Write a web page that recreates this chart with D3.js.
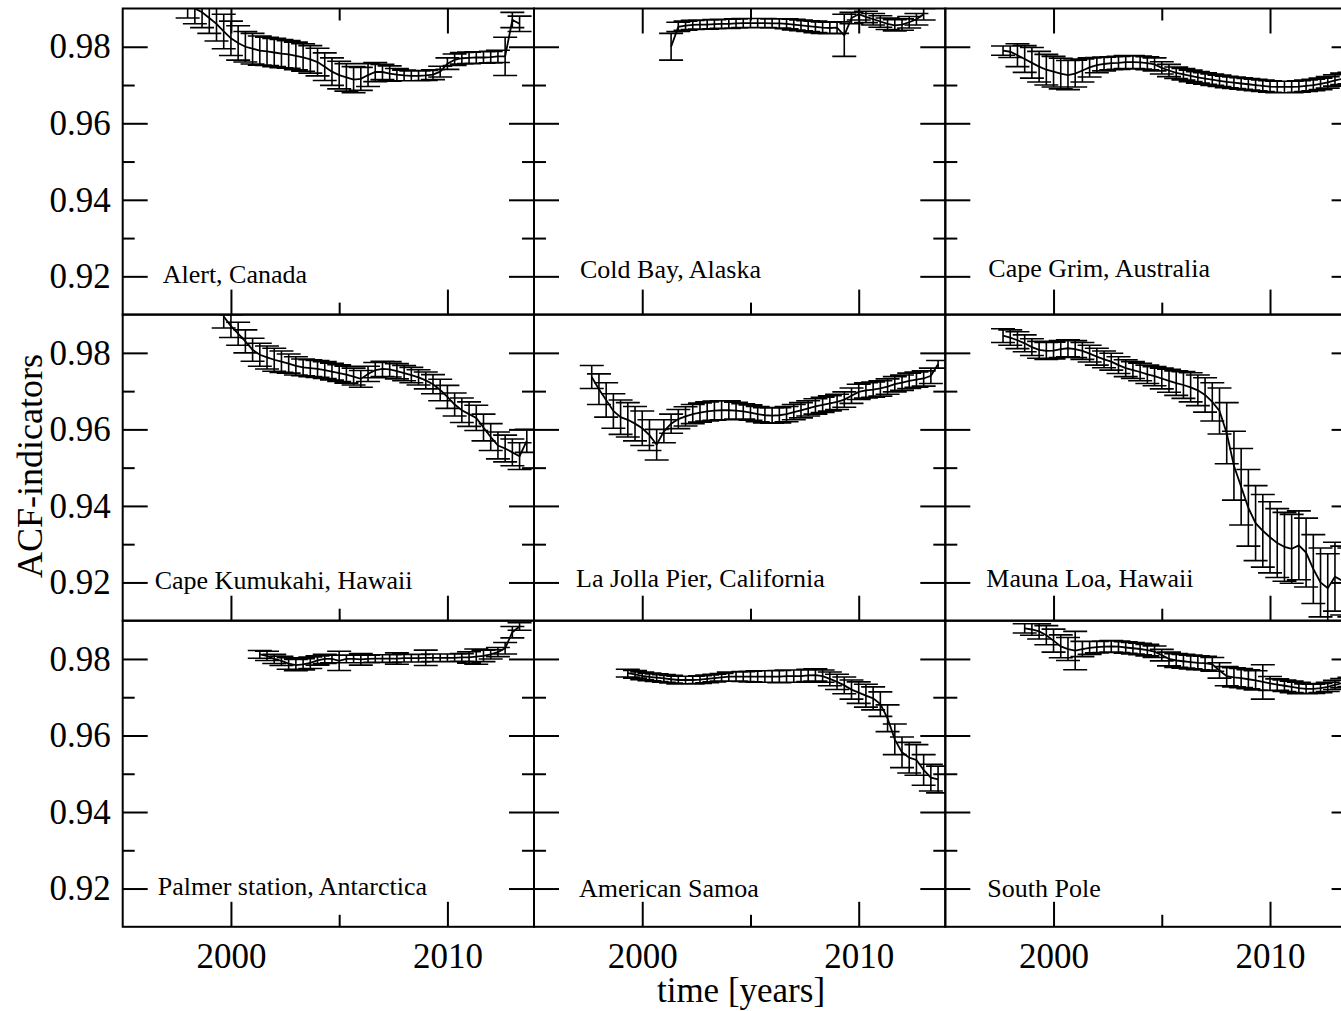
<!DOCTYPE html>
<html><head><meta charset="utf-8">
<script src="https://cdn.jsdelivr.net/npm/d3@7"></script>
<style>
body{margin:0;background:#fff}
svg{display:block}
text{font-family:"Liberation Serif","Times New Roman",serif;fill:#000}
</style>
</head><body>
<svg id="chart" width="1341" height="1011"></svg>
<script>
// ---------------- data ----------------
const stationNames = ["Alert, Canada","Cold Bay, Alaska","Cape Grim, Australia",
  "Cape Kumukahi, Hawaii","La Jolla Pier, California","Mauna Loa, Hawaii",
  "Palmer station, Antarctica","American Samoa","South Pole"];
const startYears = [1998.0,2001.333,1997.667,1999.667,1997.667,1997.667,2001.333,1999.333,1998.667];
const sampleStep = 1/3; // years between successive windows

const alertVals = [0.9915,0.9900,0.9890,0.9875,0.9860,0.9840,0.9822,0.9810,0.9800,0.9795,0.9790,
  0.9788,0.9785,0.9782,0.9780,0.9776,0.9772,0.9767,0.9760,0.9748,0.9735,
  0.9726,0.9720,0.9714,0.9716,0.9726,0.9734,0.9734,0.9730,0.9727,0.9725,
  0.9724,0.9724,0.9725,0.9727,0.9735,0.9756,0.9766,0.9770,0.9771,0.9772,
  0.9772,0.9773,0.9775,0.9775,0.9870,0.9860];
const alertErrs = [0.004,0.004,0.004,0.004,0.0045,0.0045,0.0045,0.0045,0.004,0.004,0.0038,
  0.0037,0.0037,0.0037,0.0036,0.0036,0.0036,0.0036,0.0036,0.0036,0.0036,
  0.0036,0.0036,0.0034,0.003,0.003,0.0025,0.002,0.002,0.0016,0.0014,
  0.0013,0.0013,0.0013,0.0013,0.0014,0.0015,0.0015,0.0015,0.0015,0.0015,
  0.0015,0.0015,0.0016,0.005,0.002,0.002];

const coldBayVals = [0.9800,0.9852,0.9855,0.9857,0.9858,0.9858,0.9859,0.9860,0.9860,0.9861,
  0.9862,0.9862,0.9862,0.9862,0.9861,0.9861,0.9860,0.9858,0.9856,0.9854,
  0.9852,0.9850,0.9849,0.9850,0.9830,0.9875,0.9885,0.9878,0.9872,0.9866,
  0.9860,0.9856,0.9858,0.9864,0.9872,0.9885];
const coldBayErrs = [0.0035,0.0012,0.0012,0.0012,0.0012,0.0012,0.0012,0.0012,0.0012,0.0012,
  0.0012,0.0012,0.0012,0.0012,0.0012,0.0012,0.0013,0.0014,0.0014,0.0014,
  0.0015,0.0015,0.0015,0.0015,0.0055,0.0015,0.0015,0.0015,0.0015,0.0015,
  0.0015,0.0015,0.0015,0.0015,0.0015,0.0015];

const capeGrimVals = [0.9790,0.9787,0.9778,0.9768,0.9758,0.9748,0.9740,0.9735,0.9730,0.9726,
  0.9730,0.9738,0.9746,0.9752,0.9755,0.9757,0.9758,0.9760,0.9760,0.9759,
  0.9757,0.9754,0.9745,0.9738,0.9732,0.9728,0.9724,0.9720,0.9717,0.9714,
  0.9711,0.9708,0.9706,0.9704,0.9702,0.9700,0.9698,0.9696,0.9695,0.9695,
  0.9695,0.9696,0.9698,0.9700,0.9703,0.9707,0.9712,0.9716,0.9718];
const capeGrimErrs = [0.0012,0.0015,0.003,0.0035,0.004,0.004,0.004,0.004,0.004,0.0038,
  0.0035,0.003,0.0025,0.002,0.0018,0.0017,0.0017,0.0017,0.0017,0.0017,
  0.0017,0.0017,0.0016,0.0016,0.0015,0.0015,0.0015,0.0015,0.0015,0.0015,
  0.0015,0.0015,0.0015,0.0015,0.0015,0.0015,0.0015,0.0015,0.0015,0.0015,
  0.0015,0.0015,0.0015,0.0015,0.0015,0.0015,0.0015,0.0015,0.0015];

const kumukahiVals = [0.9895,0.9870,0.9850,0.9830,0.9808,0.9795,0.9788,0.9782,0.9777,0.9772,
  0.9766,0.9762,0.9760,0.9758,0.9755,0.9751,0.9747,0.9743,0.9738,0.9732,
  0.9745,0.9755,0.9758,0.9757,0.9752,0.9747,0.9742,0.9736,0.9728,0.9718,
  0.9703,0.9685,0.9665,0.9650,0.9640,0.9630,0.9605,0.9580,0.9558,0.9550,
  0.9540,0.9530,0.9570];
const kumukahiErrs = [0.003,0.003,0.003,0.003,0.003,0.003,0.003,0.003,0.0028,0.0025,
  0.0024,0.0022,0.0022,0.0022,0.0022,0.0022,0.0022,0.0022,0.0022,0.0022,
  0.002,0.002,0.002,0.002,0.002,0.002,0.002,0.002,0.0022,0.0025,
  0.0028,0.003,0.003,0.0032,0.0032,0.0033,0.0035,0.0035,0.0035,0.0035,
  0.0035,0.0035,0.003];

const laJollaVals = [0.9737,0.9705,0.9677,0.9648,0.9632,0.9625,0.9615,0.9603,0.9585,0.9560,
  0.9595,0.9615,0.9627,0.9634,0.9640,0.9644,0.9647,0.9649,0.9650,0.9650,
  0.9649,0.9647,0.9644,0.9640,0.9637,0.9636,0.9637,0.9640,0.9645,0.9650,
  0.9655,0.9660,0.9664,0.9668,0.9672,0.9678,0.9688,0.9698,0.9702,0.9704,
  0.9707,0.9712,0.9718,0.9722,0.9727,0.9730,0.9733,0.9740,0.9770];
const laJollaErrs = [0.003,0.004,0.0045,0.0045,0.0045,0.0045,0.0045,0.0045,0.004,0.004,
  0.003,0.0025,0.0025,0.0025,0.0025,0.0025,0.0025,0.0025,0.0025,0.0025,
  0.0022,0.002,0.002,0.002,0.002,0.002,0.002,0.002,0.002,0.002,
  0.002,0.002,0.002,0.002,0.002,0.002,0.002,0.002,0.002,0.002,
  0.002,0.002,0.002,0.002,0.002,0.002,0.002,0.002,0.001];

const maunaLoaVals = [0.9845,0.9840,0.9833,0.9825,0.9815,0.9808,0.9805,0.9806,0.9810,0.9812,
  0.9810,0.9805,0.9798,0.9790,0.9783,0.9777,0.9768,0.9760,0.9755,0.9750,
  0.9744,0.9739,0.9733,0.9727,0.9721,0.9716,0.9710,0.9702,0.9690,0.9672,
  0.9648,0.9590,0.9505,0.9450,0.9395,0.9355,0.9335,0.9318,0.9303,0.9293,
  0.9288,0.9297,0.9278,0.9235,0.9200,0.9185,0.9215,0.9205,0.9200];
const maunaLoaErrs = [0.0018,0.002,0.0022,0.0022,0.0022,0.0022,0.0022,0.0022,0.0022,0.0022,
  0.0022,0.0022,0.0022,0.0022,0.0022,0.0022,0.0022,0.0022,0.0022,0.0023,
  0.0024,0.0025,0.0027,0.003,0.0032,0.0035,0.0038,0.004,0.0045,0.005,
  0.006,0.008,0.009,0.01,0.01,0.0098,0.0095,0.0093,0.009,0.009,
  0.009,0.009,0.009,0.009,0.009,0.009,0.009,0.009,0.009];

const palmerVals = [0.9812,0.9808,0.9800,0.9795,0.9788,0.9784,0.9786,0.9790,0.9796,0.9800,
  0.9800,0.9795,0.9800,0.9800,0.9799,0.9800,0.9801,0.9801,0.9801,0.9801,
  0.9802,0.9802,0.9802,0.9803,0.9803,0.9803,0.9803,0.9803,0.9804,0.9804,
  0.9806,0.9808,0.9812,0.9818,0.9828,0.9870,0.9885];
const palmerErrs = [0.001,0.0012,0.0012,0.0012,0.0015,0.0015,0.0015,0.0015,0.0012,0.0012,
  0.001,0.0025,0.001,0.001,0.0015,0.001,0.001,0.001,0.001,0.0015,
  0.001,0.001,0.001,0.002,0.001,0.001,0.001,0.001,0.001,0.0015,
  0.002,0.0015,0.0012,0.0012,0.0015,0.0015,0.001];

const samoaVals = [0.9763,0.9760,0.9756,0.9753,0.9751,0.9749,0.9747,0.9745,0.9745,0.9745,
  0.9746,0.9748,0.9750,0.9752,0.9754,0.9754,0.9754,0.9754,0.9754,0.9754,
  0.9754,0.9754,0.9755,0.9755,0.9755,0.9757,0.9758,0.9755,0.9748,0.9740,
  0.9731,0.9720,0.9712,0.9704,0.9697,0.9682,0.9645,0.9590,0.9556,0.9542,
  0.9536,0.9510,0.9490,0.9485];
const samoaErrs = [0.001,0.001,0.001,0.001,0.001,0.001,0.001,0.001,0.001,0.001,
  0.001,0.001,0.001,0.001,0.0012,0.0012,0.0013,0.0014,0.0015,0.0015,
  0.0015,0.0016,0.0016,0.0016,0.0016,0.0016,0.0016,0.0016,0.0018,0.002,
  0.0022,0.0025,0.0028,0.003,0.003,0.0032,0.0035,0.004,0.004,0.004,
  0.004,0.004,0.0035,0.0035];

const southPoleVals = [0.9880,0.9877,0.9872,0.9862,0.9848,0.9833,0.9826,0.9822,0.9826,0.9829,
  0.9831,0.9832,0.9833,0.9832,0.9830,0.9828,0.9826,0.9823,0.9819,0.9810,
  0.9800,0.9796,0.9794,0.9792,0.9790,0.9789,0.9786,0.9770,0.9755,0.9752,
  0.9750,0.9747,0.9744,0.9740,0.9736,0.9733,0.9730,0.9727,0.9724,0.9722,
  0.9722,0.9724,0.9727,0.9732,0.9737,0.9740];
const southPoleErrs = [0.0012,0.0015,0.002,0.0025,0.003,0.003,0.003,0.005,0.002,0.0017,
  0.0015,0.0015,0.0015,0.0015,0.0015,0.0015,0.0015,0.0015,0.0015,0.0015,
  0.0018,0.0018,0.0018,0.0018,0.0018,0.0018,0.0018,0.002,0.0025,0.0025,
  0.0025,0.0025,0.0025,0.0045,0.0018,0.0015,0.0015,0.0015,0.0015,0.0013,
  0.0012,0.0012,0.0012,0.0012,0.0012,0.0012];

const seriesVals = [alertVals,coldBayVals,capeGrimVals,kumukahiVals,laJollaVals,maunaLoaVals,palmerVals,samoaVals,southPoleVals];
const seriesErrs = [alertErrs,coldBayErrs,capeGrimErrs,kumukahiErrs,laJollaErrs,maunaLoaErrs,palmerErrs,samoaErrs,southPoleErrs];

const xDomain = [1995, 2014];
const yDomain = [0.91, 0.99];
const xMajorTicks = [2000, 2010];
const xMinorTicks = [2005];
const yMajorTicks = [0.92, 0.94, 0.96, 0.98];
const yMinorTicks = [0.93, 0.95, 0.97];
const yTitle = "ACF-indicators";
const xTitle = "time [years]";

// ---------------- layout ----------------
const L = {left:122.7, top:8.5, pw:411.3, ph:306.1, major:25, minor:12, cap:12};
const labelOffsets = [[40,274.5],[46,269.5],[43,268.5],[32,274.5],[42,272],[41,272],[35,274],[45,276],[42,276]];

const svg = d3.select("#chart");
svg.append("defs").append("clipPath").attr("id","pclip")
  .append("rect").attr("x",0).attr("y",0).attr("width",L.pw).attr("height",L.ph);

const x = d3.scaleLinear().domain(xDomain).range([0, L.pw]);
const y = d3.scaleLinear().domain(yDomain).range([L.ph, 0]);

function styleAxis(g){
  g.select(".domain").remove();
  g.selectAll(".tick line").attr("stroke","#000").attr("stroke-width",2);
  g.selectAll(".tick text").attr("font-family","Liberation Serif, Times New Roman, serif")
    .attr("font-size",35).attr("fill","#000");
  g.attr("font-family",null).attr("font-size",null);
}

stationNames.forEach((name, i) => {
  const row = Math.floor(i/3), col = i % 3;
  const g = svg.append("g").attr("transform",`translate(${L.left + col*L.pw},${L.top + row*L.ph})`);
  const vals = seriesVals[i], errs = seriesErrs[i];
  const pts = vals.map((v,k) => ({t: startYears[i] + k*sampleStep, v: v, e: errs[k]}));

  const data = g.append("g").attr("clip-path","url(#pclip)");
  // error bars
  let p = "";
  pts.forEach(d => {
    const cx = x(d.t), y1 = y(d.v - d.e), y2 = y(d.v + d.e);
    p += `M${cx},${y1}V${y2}M${cx-L.cap},${y2}h${2*L.cap}M${cx-L.cap},${y1}h${2*L.cap}`;
  });
  data.append("path").attr("d",p).attr("fill","none").attr("stroke","#000").attr("stroke-width",1.6);
  // mean line
  data.append("path").datum(pts)
    .attr("d", d3.line().x(d => x(d.t)).y(d => y(d.v)))
    .attr("fill","none").attr("stroke","#000").attr("stroke-width",1.8);

  // axes (ticks pointing inward)
  const fmtY = col === 0 ? d3.format(".2f") : () => "";
  const fmtX = row === 2 ? d3.format("d") : () => "";
  g.append("g").call(d3.axisLeft(y).tickValues(yMajorTicks).tickSize(-L.major).tickPadding(12).tickFormat(fmtY)).call(styleAxis);
  g.append("g").call(d3.axisLeft(y).tickValues(yMinorTicks).tickSize(-L.minor).tickFormat("")).call(styleAxis);
  g.append("g").attr("transform",`translate(${L.pw},0)`).call(d3.axisRight(y).tickValues(yMajorTicks).tickSize(-L.major).tickFormat("")).call(styleAxis);
  g.append("g").attr("transform",`translate(${L.pw},0)`).call(d3.axisRight(y).tickValues(yMinorTicks).tickSize(-L.minor).tickFormat("")).call(styleAxis);
  g.append("g").attr("transform",`translate(0,${L.ph})`).call(d3.axisBottom(x).tickValues(xMajorTicks).tickSize(-L.major).tickPadding(16.5).tickFormat(fmtX)).call(styleAxis);
  g.append("g").attr("transform",`translate(0,${L.ph})`).call(d3.axisBottom(x).tickValues(xMinorTicks).tickSize(-L.minor).tickFormat("")).call(styleAxis);
  if (row === 0) {
    g.append("g").call(d3.axisTop(x).tickValues(xMajorTicks).tickSize(-L.major).tickFormat("")).call(styleAxis);
    g.append("g").call(d3.axisTop(x).tickValues(xMinorTicks).tickSize(-L.minor).tickFormat("")).call(styleAxis);
  }
  // frame
  g.append("rect").attr("width",L.pw).attr("height",L.ph)
    .attr("fill","none").attr("stroke","#000").attr("stroke-width",2);
  // station label
  g.append("text").attr("x",labelOffsets[i][0]).attr("y",labelOffsets[i][1])
    .attr("font-size",26).text(name);
});

// axis titles
svg.append("text").attr("x",741).attr("y",1002).attr("text-anchor","middle")
  .attr("font-size",35).text(xTitle);
svg.append("text").attr("transform","translate(42,466) rotate(-90)").attr("text-anchor","middle")
  .attr("font-size",36).text(yTitle);
</script>
</body></html>
